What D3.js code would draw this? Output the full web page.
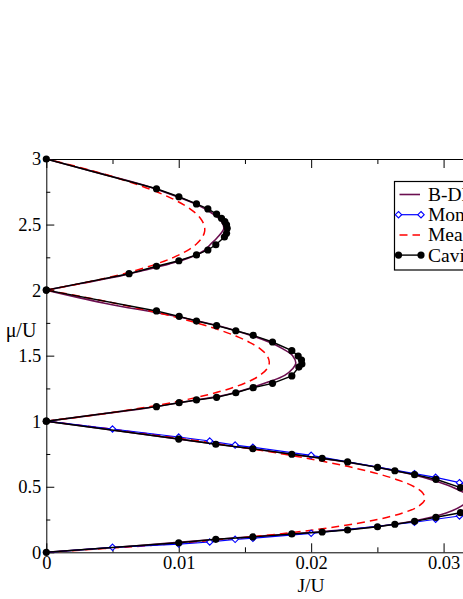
<!DOCTYPE html>
<html>
<head>
<meta charset="utf-8">
<script src="https://cdn.jsdelivr.net/npm/d3@7"></script>
<style>
  body { margin: 0; background: #fff; }
  svg { display: block; }
  svg text { font-family: 'Liberation Serif', 'DejaVu Serif', serif !important; }
</style>
</head>
<body>
<svg width="463" height="599"></svg>
<script>
// values: [J/U, mu/U]
const bdmftLobe1 = [[0,0],[0.0068,0.05],[0.0129,0.1],[0.0199,0.15],[0.0253,0.2],[0.0283,0.25],[0.0302,0.3],[0.0313,0.35],[0.0320,0.41],[0.0316,0.45],[0.0306,0.5],[0.0292,0.55],[0.0274,0.6],[0.0249,0.65],[0.0219,0.7],[0.0184,0.75],[0.0148,0.8],[0.0110,0.85],[0.0073,0.9],[0.0037,0.95],[0,1]];
const bdmftLobe2 = [[0,1],[0.0038,1.05],[0.0075,1.1],[0.0106,1.15],[0.0135,1.2],[0.0153,1.25],[0.0168,1.3],[0.0180,1.35],[0.0186,1.4],[0.01884,1.442],[0.0186,1.5],[0.0179,1.55],[0.0169,1.6],[0.0140,1.7],[0.0098,1.8],[0.0044,1.9],[0,2]];
const bdmftLobe3 = [[0,2],[0.0026,2.05],[0.0052,2.1],[0.0073,2.15],[0.0093,2.2],[0.0109,2.25],[0.0119,2.3],[0.0124,2.35],[0.0129,2.4],[0.01339,2.464],[0.01335,2.5],[0.0130,2.55],[0.0123,2.6],[0.0114,2.65],[0.0102,2.7],[0.0074,2.8],[0.0037,2.9],[0,3]];

const monteCarlo = [[0,1],[0.005,0.9405],[0.01,0.8795],[0.01234,0.849],[0.01426,0.818],[0.0156,0.801],[0.02,0.740],[0.0278,0.600],[0.0294,0.572],[0.0312,0.531],[0.0334,0.45],[0.0341,0.39],[0.0334,0.33],[0.0312,0.277],[0.0294,0.252],[0.0278,0.229],[0.02,0.145],[0.0156,0.107],[0.01426,0.099],[0.01234,0.0786],[0.01,0.063],[0.005,0.038],[0,0]];

const meanFieldLobe1 = [[0,0],[0.00754,0.05],[0.01364,0.1],[0.01848,0.15],[0.02222,0.2],[0.025,0.25],[0.02692,0.3],[0.02809,0.35],[0.02857,0.4],[0.02845,0.45],[0.02778,0.5],[0.02661,0.55],[0.025,0.6],[0.02298,0.65],[0.02059,0.7],[0.01786,0.75],[0.01481,0.8],[0.01149,0.85],[0.00789,0.9],[0.00406,0.95],[0,1]];
const meanFieldLobe2 = [[0,1],[0.00386,1.05],[0.00714,1.1],[0.00988,1.15],[0.01212,1.2],[0.01389,1.25],[0.01522,1.3],[0.01613,1.35],[0.01667,1.4],[0.01684,1.45],[0.01667,1.5],[0.01618,1.55],[0.01538,1.6],[0.01431,1.65],[0.01296,1.7],[0.01136,1.75],[0.00952,1.8],[0.00746,1.85],[0.00517,1.9],[0.00268,1.95],[0,2]];
const meanFieldLobe3 = [[0,2],[0.0026,2.05],[0.00484,2.1],[0.00675,2.15],[0.00833,2.2],[0.00962,2.25],[0.01061,2.3],[0.01132,2.35],[0.01176,2.4],[0.01196,2.45],[0.0119,2.5],[0.01162,2.55],[0.01111,2.6],[0.01039,2.65],[0.00946,2.7],[0.00833,2.75],[0.00702,2.8],[0.00552,2.85],[0.00385,2.9],[0.002,2.95],[0,3]];

const cavityLobe1 = [[0,0],[0.01,0.073],[0.0128,0.099],[0.0156,0.117],[0.01854,0.140],[0.02083,0.155],[0.02275,0.170],[0.02501,0.195],[0.02632,0.214],[0.02781,0.236],[0.02942,0.267],[0.03128,0.302],[0.0330,0.34],[0.0337,0.39],[0.0330,0.44],[0.03128,0.493],[0.02942,0.557],[0.02781,0.592],[0.02632,0.622],[0.02501,0.648],[0.02275,0.689],[0.02083,0.717],[0.01854,0.748],[0.0156,0.790],[0.0128,0.824],[0.01,0.864],[0,1]];
const cavityLobe2 = [[0,1],[0.00832,1.111],[0.01003,1.141],[0.01134,1.162],[0.01286,1.182],[0.01431,1.217],[0.01562,1.256],[0.01708,1.289],[0.01854,1.345],[0.01907,1.413],[0.0193,1.436],[0.01927,1.467],[0.01902,1.497],[0.01854,1.538],[0.01708,1.604],[0.01562,1.655],[0.01431,1.690],[0.01286,1.729],[0.01134,1.764],[0.01003,1.800],[0.00832,1.841],[0,2]];
const cavityLobe3 = [[0,2],[0.00625,2.125],[0.00832,2.182],[0.01001,2.224],[0.01134,2.268],[0.0122,2.306],[0.0128,2.346],[0.01345,2.405],[0.01361,2.433],[0.01366,2.471],[0.01361,2.497],[0.01348,2.522],[0.01323,2.548],[0.01286,2.580],[0.0122,2.619],[0.01134,2.657],[0.01001,2.712],[0.00832,2.773],[0,3]];

const xTicks = [0, 0.01, 0.02, 0.03];
const xMinor = [0.005, 0.015, 0.025, 0.035];
const yTicks = [0, 0.5, 1, 1.5, 2, 2.5, 3];
const yMinor = [0.25, 0.75, 1.25, 1.75, 2.25, 2.75];
const legendLabels = ["B-DMFT", "Monte Carlo", "Mean field", "Cavity"];

const serif = "'Liberation Serif', 'DejaVu Serif', serif";
const svg = d3.select("svg");

const x = d3.scaleLinear().domain([0, 0.04]).range([46.3, 46.3 + 0.04 * 13243]);
const y = d3.scaleLinear().domain([0, 3]).range([552.3, 159]);
const fmtX = d => d === 0 ? "0" : d3.format(".2f")(d);
const fmtY = d => String(d);

// axes, xmgrace style ticks pointing inside
const gx = svg.append("g").attr("transform", `translate(0, ${y(0)})`);
gx.call(d3.axisBottom(x).tickValues(xTicks).tickSize(-9).tickSizeOuter(0).tickPadding(4).tickFormat(fmtX));
gx.append("g").call(d3.axisBottom(x).tickValues(xMinor).tickSize(-5).tickSizeOuter(0).tickFormat(""))
  .select(".domain").remove();

const gt = svg.append("g").attr("transform", `translate(0, ${y(3)})`);
gt.call(d3.axisTop(x).tickValues(xTicks).tickSize(-9).tickSizeOuter(0).tickFormat(""));
gt.append("g").call(d3.axisTop(x).tickValues(xMinor).tickSize(-5).tickSizeOuter(0).tickFormat(""))
  .select(".domain").remove();

const gy = svg.append("g").attr("transform", `translate(${x(0)}, 0)`);
gy.call(d3.axisLeft(y).tickValues(yTicks).tickSize(-8).tickSizeOuter(0).tickPadding(5).tickFormat(fmtY));
gy.append("g").call(d3.axisLeft(y).tickValues(yMinor).tickSize(-4).tickSizeOuter(0).tickFormat(""))
  .select(".domain").remove();

svg.selectAll("g").attr("font-family", serif);
svg.selectAll(".tick text")
  .style("font-family", serif)
  .style("font-size", "18.5px")
  .attr("fill", "#000");
svg.selectAll(".domain, .tick line").attr("stroke", "#000");

// axis labels
svg.append("text")
  .attr("x", 311).attr("y", 592)
  .attr("text-anchor", "middle")
  .style("font-family", serif)
  .style("font-size", "19.5px")
  .text("J/U");
svg.append("text")
  .attr("x", 21).attr("y", 337)
  .attr("text-anchor", "middle")
  .style("font-family", serif)
  .style("font-size", "20px")
  .text("μ/U");

const line = d3.line().x(d => x(d[0])).y(d => y(d[1]));
const smooth = d3.line().x(d => x(d[0])).y(d => y(d[1])).curve(d3.curveCatmullRom);

const maroon = "#6b0f50";

// B-DMFT
[bdmftLobe1, bdmftLobe2, bdmftLobe3].forEach(lobe => {
  svg.append("path").attr("d", smooth(lobe))
    .attr("fill", "none").attr("stroke", maroon).attr("stroke-width", 1.6);
});

// Mean field
[meanFieldLobe1, meanFieldLobe2, meanFieldLobe3].forEach(lobe => {
  svg.append("path").attr("d", smooth(lobe))
    .attr("fill", "none").attr("stroke", "#ff0000").attr("stroke-width", 1.5)
    .attr("stroke-dasharray", "8,5");
});

// Monte Carlo
svg.append("path").attr("d", line(monteCarlo))
  .attr("fill", "none").attr("stroke", "#0000ff").attr("stroke-width", 1.2);
const diamond = d3.symbol().type(d3.symbolDiamond2).size(26);
svg.selectAll("path.mc")
  .data(monteCarlo.filter(d => d[0] > 0))
  .enter().append("path")
  .attr("class", "mc")
  .attr("d", diamond)
  .attr("transform", d => `translate(${x(d[0])}, ${y(d[1])})`)
  .attr("fill", "#fff").attr("stroke", "#0000ff").attr("stroke-width", 1.1);

// Cavity
[cavityLobe1, cavityLobe2, cavityLobe3].forEach((lobe, i) => {
  svg.append("path").attr("d", line(lobe))
    .attr("fill", "none").attr("stroke", "#000").attr("stroke-width", 1.4);
  svg.selectAll("circle.cav" + i)
    .data(lobe)
    .enter().append("circle")
    .attr("class", "cav" + i)
    .attr("cx", d => x(d[0]))
    .attr("cy", d => y(d[1]))
    .attr("r", 3.6)
    .attr("fill", "#000");
});

// legend (the figure is cropped on the right, as in the source)
const lg = svg.append("g");
lg.append("rect")
  .attr("x", 394.5).attr("y", 181.5)
  .attr("width", 200).attr("height", 88.5)
  .attr("fill", "#fff").attr("stroke", "#000").attr("stroke-width", 1.2);

const rowY = i => 194.5 + i * 20.2;
const x1 = 398.5, x2 = 421;

lg.append("line").attr("x1", x1 + 1).attr("x2", x2 - 1).attr("y1", rowY(0)).attr("y2", rowY(0))
  .attr("stroke", maroon).attr("stroke-width", 1.6);

lg.append("line").attr("x1", x1).attr("x2", x2).attr("y1", rowY(1)).attr("y2", rowY(1))
  .attr("stroke", "#0000ff").attr("stroke-width", 1.2);
[x1, x2].forEach(px => {
  lg.append("path").attr("d", diamond)
    .attr("transform", `translate(${px}, ${rowY(1)})`)
    .attr("fill", "#fff").attr("stroke", "#0000ff").attr("stroke-width", 1.1);
});

lg.append("line").attr("x1", x1 + 1).attr("x2", x2 - 1).attr("y1", rowY(2)).attr("y2", rowY(2))
  .attr("stroke", "#ff0000").attr("stroke-width", 1.5).attr("stroke-dasharray", "8,5");

lg.append("line").attr("x1", x1).attr("x2", x2).attr("y1", rowY(3)).attr("y2", rowY(3))
  .attr("stroke", "#000").attr("stroke-width", 1.4);
[x1, x2].forEach(px => {
  lg.append("circle").attr("cx", px).attr("cy", rowY(3)).attr("r", 3.6).attr("fill", "#000");
});

lg.selectAll("text.leg")
  .data(legendLabels)
  .enter().append("text")
  .attr("class", "leg")
  .attr("x", 428)
  .attr("y", (d, i) => rowY(i) + 6.5)
  .style("font-family", serif)
  .style("font-size", "19.5px")
  .text(d => d);
</script>
</body>
</html>
